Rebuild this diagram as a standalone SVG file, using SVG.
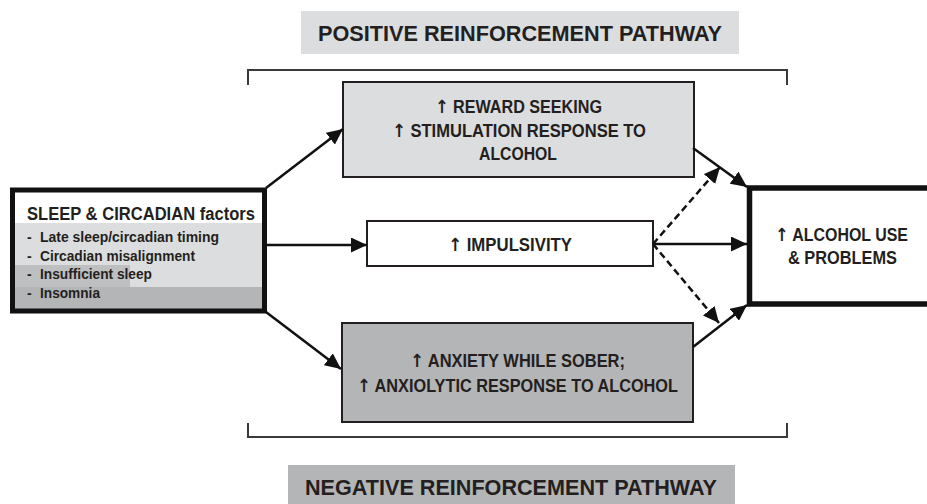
<svg xmlns="http://www.w3.org/2000/svg" width="927" height="504" viewBox="0 0 927 504">
<defs>
<style>
text{font-family:"Liberation Sans",Arial,sans-serif;font-weight:bold;fill:#231f20}
.ar{font-family:"DejaVu Sans",sans-serif;font-weight:bold}
.box{stroke:#231f20;stroke-width:2}
.light{fill:#dcdddf}
.dark{fill:#b4b5b7}
.lbl{font-size:22px;text-anchor:middle}
.t{font-size:18px;text-anchor:middle}
.li{font-size:14px}
.conn{stroke:#111;stroke-width:2.5;fill:none;marker-end:url(#ah)}
.dash{stroke-dasharray:7 4}
.brk{stroke:#3a3a3a;stroke-width:2;fill:none}
</style>
<marker id="ah" markerUnits="userSpaceOnUse" markerWidth="17" markerHeight="15" refX="16" refY="7.5" orient="auto" viewBox="0 0 17 15">
<path d="M0,0 L16,7.5 L0,15 z" fill="#111"/>
</marker>
</defs>
<rect width="927" height="504" fill="#fff"/>

<g id="positive-label">
<rect x="301" y="11" width="438" height="43" class="light"/>
<text class="lbl" x="520" y="41" textLength="404" lengthAdjust="spacingAndGlyphs">POSITIVE REINFORCEMENT PATHWAY</text>
</g>
<path id="top-bracket" class="brk" d="M248,85 V70 H787 V85"/>

<g id="reward">
<rect x="343" y="82" width="351" height="95" class="box light"/>
<text class="t" x="518.5" y="113" textLength="167" lengthAdjust="spacingAndGlyphs"><tspan class="ar">↑</tspan> REWARD SEEKING</text>
<text class="t" x="519" y="137" textLength="254" lengthAdjust="spacingAndGlyphs"><tspan class="ar">↑</tspan> STIMULATION RESPONSE TO</text>
<text class="t" x="518" y="160" textLength="78" lengthAdjust="spacingAndGlyphs">ALCOHOL</text>
</g>

<g id="sleep">
<rect x="15" y="192" width="247" height="31" fill="#fff"/>
<rect x="15" y="223" width="247" height="64" class="light"/>
<rect x="15" y="265" width="115" height="22" fill="#bebfc1"/>
<rect x="15" y="287" width="247" height="22" class="dark"/>
<rect x="12.5" y="190" width="252" height="121" fill="none" stroke="#111" stroke-width="5"/>
<text x="27" y="220" font-size="17.5" textLength="228" lengthAdjust="spacingAndGlyphs">SLEEP &amp; CIRCADIAN factors</text>
<text class="li" y="242"><tspan x="27">-</tspan><tspan x="40" textLength="179" lengthAdjust="spacingAndGlyphs">Late sleep/circadian timing</tspan></text>
<text class="li" y="261"><tspan x="27">-</tspan><tspan x="40" textLength="155" lengthAdjust="spacingAndGlyphs">Circadian misalignment</tspan></text>
<text class="li" y="279"><tspan x="27">-</tspan><tspan x="40" textLength="112" lengthAdjust="spacingAndGlyphs">Insufficient sleep</tspan></text>
<text class="li" y="298"><tspan x="27">-</tspan><tspan x="40" textLength="60" lengthAdjust="spacingAndGlyphs">Insomnia</tspan></text>
</g>

<g id="impulsivity">
<rect x="367" y="221" width="286" height="45" class="box" fill="#fff"/>
<text class="t" x="510" y="251" textLength="124" lengthAdjust="spacingAndGlyphs"><tspan class="ar">↑</tspan> IMPULSIVITY</text>
</g>

<g id="anxiety">
<rect x="342" y="323" width="351" height="99" class="box dark"/>
<text class="t" x="517.5" y="367" textLength="215" lengthAdjust="spacingAndGlyphs"><tspan class="ar">↑</tspan> ANXIETY WHILE SOBER;</text>
<text class="t" x="517.5" y="392" textLength="321" lengthAdjust="spacingAndGlyphs"><tspan class="ar">↑</tspan> ANXIOLYTIC RESPONSE TO ALCOHOL</text>
</g>

<g id="alcohol">
<rect x="749.5" y="188" width="200" height="116" fill="#fff" stroke="#111" stroke-width="5.5"/>
<text class="t" x="841.5" y="241" textLength="133" lengthAdjust="spacingAndGlyphs"><tspan class="ar">↑</tspan> ALCOHOL USE</text>
<text class="t" x="842.5" y="264" textLength="109" lengthAdjust="spacingAndGlyphs">&amp; PROBLEMS</text>
</g>

<path id="bottom-bracket" class="brk" d="M248,423 V437 H787 V423"/>
<g id="negative-label">
<rect x="288" y="465" width="447" height="45" class="dark"/>
<text class="lbl" x="511" y="495" textLength="412" lengthAdjust="spacingAndGlyphs">NEGATIVE REINFORCEMENT PATHWAY</text>
</g>

<g id="connectors">
<line class="conn" x1="266" y1="188" x2="343" y2="129"/>
<line class="conn" x1="267" y1="245" x2="367" y2="245"/>
<line class="conn" x1="266" y1="312" x2="341" y2="369"/>
<line class="conn" x1="693" y1="148" x2="747" y2="187"/>
<line class="conn" x1="653" y1="244" x2="747" y2="244"/>
<line class="conn" x1="693" y1="347" x2="747" y2="305"/>
<line class="conn dash" x1="653" y1="244" x2="720" y2="167"/>
<line class="conn dash" x1="653" y1="244" x2="719" y2="323"/>
</g>
</svg>
